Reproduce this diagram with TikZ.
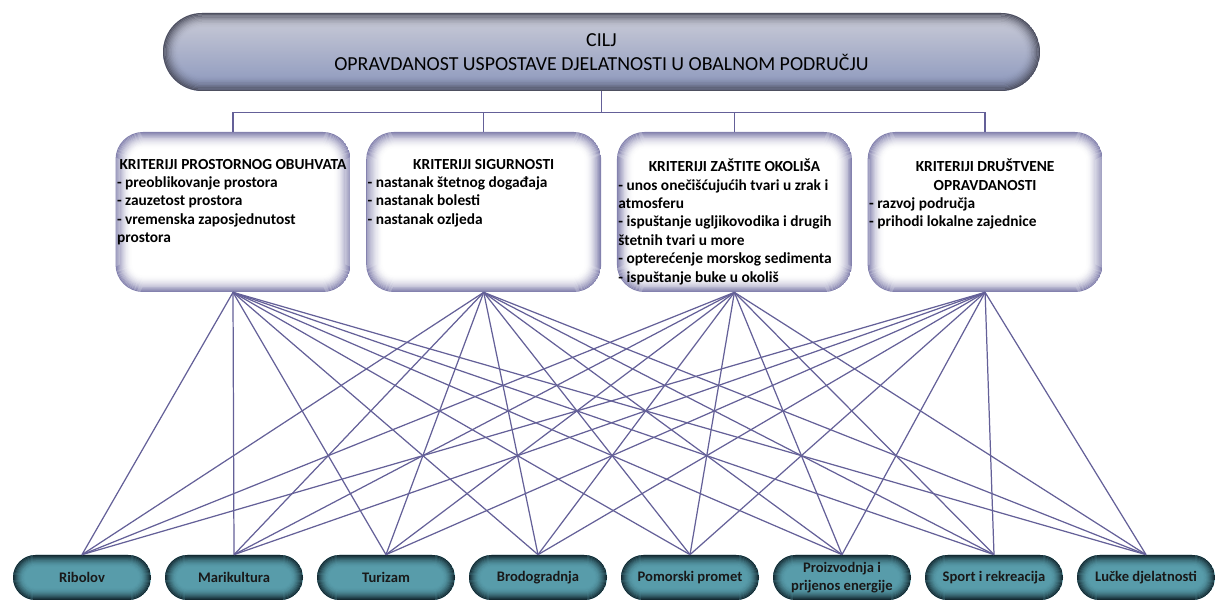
\documentclass[tikz,border=0pt]{standalone}
\usepackage{fontspec}
\setmainfont{Carlito}
\usetikzlibrary{positioning, calc}
\definecolor{vezna}{RGB}{100,96,152}
\definecolor{ciljtop}{RGB}{204,205,216}
\definecolor{ciljmid}{RGB}{229,232,243}
\definecolor{ciljbot}{RGB}{138,150,188}
\definecolor{ciljrub}{RGB}{78,80,96}
\definecolor{kritrub}{RGB}{132,130,174}
\definecolor{djelsred}{RGB}{88,156,170}
\definecolor{djelrub}{RGB}{20,42,50}
% rub koji blijedi prema unutra (#1 boja, #2 radijus, #3 korak, #4 broj koraka)
\newcommand{\sjaj}[4]{%
  \foreach \st [evaluate=\st as \op using {(1-\st/#4)^2},
                evaluate=\st as \dd using {(\st+0.5)*#3},
                evaluate=\st as \rad using {max(#2-(\st+0.5)*#3,0.01)}] in {0,...,#4}
    \draw[#1, line width=#3cm, opacity=\op, rounded corners=\rad cm]
      ($(path picture bounding box.south west)+(\dd,\dd)$) rectangle
      ($(path picture bounding box.north east)-(\dd,\dd)$);}
\tikzset{cilj/.style={rounded corners=0.78cm, minimum width=17.54cm, minimum height=1.56cm,
    top color=ciljtop, middle color=ciljmid, bottom color=ciljbot,
    path picture={\sjaj{ciljrub}{0.78}{0.025}{12}},
    align=center, font=\fontsize{11.3}{13.5}\selectfont}}
\tikzset{kriterij/.style={fill=white, rounded corners=0.55cm, minimum width=4.7cm,
    minimum height=3.2cm, inner xsep=0.03cm, inner ysep=0.54cm,
    path picture={\sjaj{kritrub}{0.55}{0.021}{16}},
    font=\bfseries\fontsize{8.75}{10.5}\selectfont}}
\tikzset{djelatnost/.style={fill=djelsred, rounded corners=0.45cm, minimum width=2.76cm,
    minimum height=0.9cm, inner sep=1pt, align=center, text=black!90,
    path picture={\sjaj{djelrub}{0.45}{0.02}{12}},
    font=\bfseries\fontsize{8.3}{10}\selectfont}}
\tikzset{veza/.style={draw=vezna, line width=0.7pt}}
\newcommand{\kritsadrzaj}[2]{\parbox[t][2.12cm][t]{4.64cm}{{\centering #1\par}\raggedright #2}}

\begin{document}
\begin{tikzpicture}
    \useasboundingbox (0,0) rectangle (24.3,-12.02);

    \node[cilj] (cilj) at (12.03,-1.04)
    {CILJ \\ OPRAVDANOST USPOSTAVE DJELATNOSTI U OBALNOM PODRUČJU};

    \node[kriterij] (k1) at (4.66,-4.24) {\kritsadrzaj{KRITERIJI PROSTORNOG OBUHVATA}
      {- preoblikovanje prostora\\- zauzetost prostora\\- vremenska zaposjednutost\\prostora}};
    \node[kriterij, right=0.3cm of k1] (k2) {\kritsadrzaj{KRITERIJI SIGURNOSTI}
      {- nastanak štetnog događaja\\- nastanak bolesti\\- nastanak ozljeda}};
    \node[kriterij, right=0.3cm of k2] (k3) {\kritsadrzaj{KRITERIJI ZAŠTITE OKOLIŠA}
      {- unos onečišćujućih tvari u zrak i\\atmosferu\\- ispuštanje ugljikovodika i drugih\\štetnih tvari u more\\- opterećenje morskog sedimenta\\- ispuštanje buke u okoliš}};
    \node[kriterij, right=0.3cm of k3] (k4) {\kritsadrzaj{KRITERIJI DRUŠTVENE\\OPRAVDANOSTI}
      {- razvoj područja\\- prihodi lokalne zajednice}};

    \foreach \ime [count=\i] in {Ribolov, Marikultura, Turizam, Brodogradnja, Pomorski promet,
        {Proizvodnja i\\prijenos energije}, Sport i rekreacija, Lučke djelatnosti}
      \node[djelatnost] (d\i) at ({1.64+3.04*(\i-1)},-11.55) {\ime};

    % cilj -> kriteriji
    \foreach \k in {1,...,4}
      \draw[veza, line width=0.8pt] (cilj.south) -- ++(0,-0.42) -| (k\k.north);

    % kriteriji -> djelatnosti
    \foreach \k in {1,...,4}
      \foreach \d in {1,...,8}
        \draw[veza] (k\k.south) -- (d\d.north);
\end{tikzpicture}
\end{document}
